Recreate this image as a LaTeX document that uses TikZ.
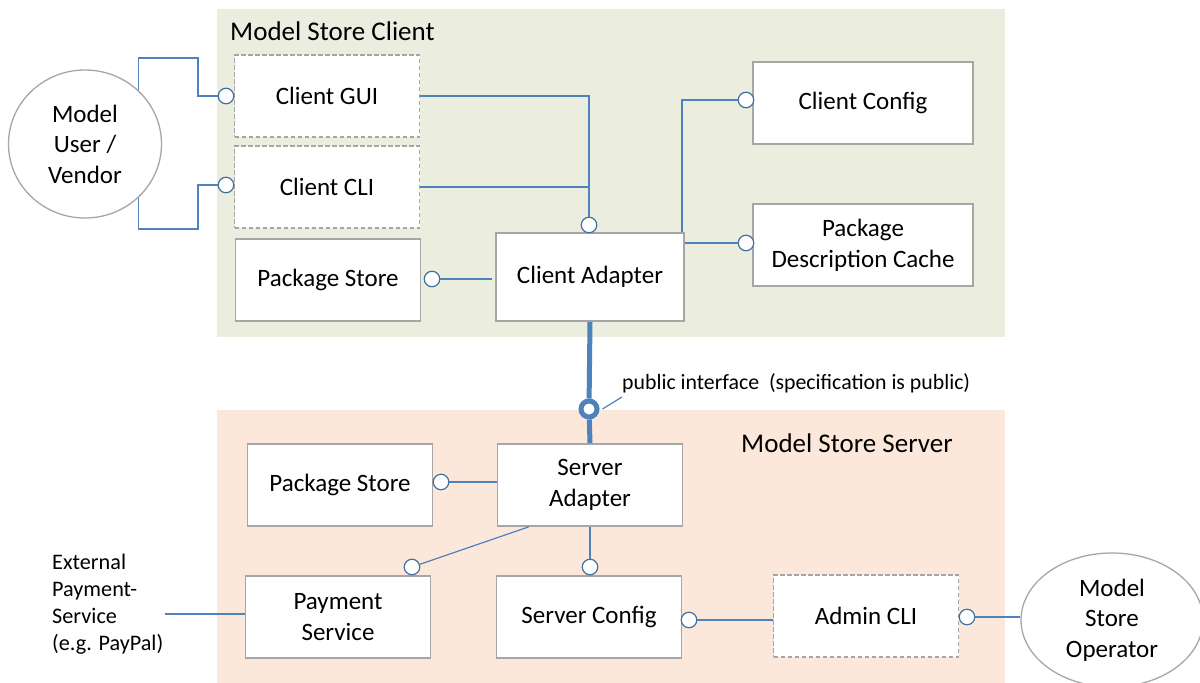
\documentclass[tikz,border=0pt]{standalone}
\usepackage{fontspec}
\setmainfont{Carlito}
\usetikzlibrary{positioning,shapes.geometric}

\definecolor{wireblue}{HTML}{4F81BD}
\definecolor{sockblue}{HTML}{41719C}
\definecolor{boxgray}{HTML}{A6A6A6}
\definecolor{clientbg}{HTML}{EBEEDF}
\definecolor{serverbg}{HTML}{FCE8DA}

\tikzset{
  comp/.style={draw=boxgray, line width=1.8pt, fill=white, minimum width=185pt,
    minimum height=82pt, align=center, font=\fontsize{25}{31}\selectfont},
  compopt/.style={comp, dash pattern=on 4.5pt off 2.5pt},
  actor/.style={ellipse, draw=boxgray, line width=1.3pt, fill=white, align=center,
    inner sep=0pt, font=\fontsize{25}{30.5}\selectfont},
  sock/.style={circle, draw=sockblue, line width=1.2pt, fill=white, minimum size=15.5pt, inner sep=0pt},
  wire/.style={draw=wireblue, line width=1.2pt},
  bus/.style={draw=wireblue, line width=5pt},
  paneltitle/.style={anchor=west, inner sep=0pt, font=\fontsize{27}{32}\selectfont},
}

\begin{document}
\begin{tikzpicture}[x=1pt, y=-1pt]
  \useasboundingbox (0,0) rectangle (1200,683);
  % Panels
  \fill[clientbg] (217,9) rectangle (1005,337);
  \fill[serverbg] (217,410) rectangle (1005,683);
  \node[paneltitle] (ctitle) at (230,31) {Model Store Client};
  \node[paneltitle] (stitle) at (741,443) {Model Store Server};
  % Nodes for the client
  \node[actor, minimum width=153pt, minimum height=148pt] (user) at (85,144) {Model\\User /\\Vendor};
  \node[compopt] (gui) at (327,96) {Client GUI};
  \node[compopt] (cli) at (327,187) {Client CLI};
  \node[comp] (cstore) at (328,280) {Package Store};
  \node[comp, minimum width=188pt, minimum height=88pt] (cadapter) at (590,277) {Client Adapter};
  \node[comp, minimum width=220pt] (cconfig) at (863,103) {Client Config};
  \node[comp, minimum width=220pt] (cache) at (863,245) {Package\\Description Cache};
  % Sockets for the client
  \node[sock] (sgui) at (226,96) {};
  \node[sock] (scli) at (226,185) {};
  \node[sock] (sadapt) at (589,225) {};
  \node[sock] (scstore) at (432,279) {};
  \node[sock] (sconfig) at (746,100) {};
  \node[sock] (scache) at (746,243) {};
  % Wires for the client
  \draw[wire] (user.45) |- (198,58) |- (sgui);
  \draw[wire] (user.-45) |- (198,229) |- (scli);
  \draw[wire] (gui.east) -| (sadapt);
  \draw[wire] (cli.east) -- (cli.east -| sadapt);
  \draw[wire] (scstore) -- ([xshift=-3pt]scstore -| cadapter.west);
  \draw[wire] ([xshift=-3pt]cadapter.north east) |- (sconfig);
  \draw[wire] (cadapter.east |- scache) -- (scache);
  % Public interface between client and server
  \node[circle, draw=wireblue, line width=5pt, fill=white, minimum size=16pt, inner sep=0pt] (pub) at (589,409) {};
  \node[anchor=west, inner sep=0pt, font=\fontsize{21.8}{26}\selectfont] (pubtxt) at (622,383) {public interface~~(specification is public)};
  \coordinate (pubtip) at (622,397);
  \draw[wire] ([xshift=3pt]pub.east) -- (pubtip);
  % Nodes for the server
  \node[comp] (sstore) at (340,485) {Package Store};
  \node[comp] (sadapter) at (590,485) {Server\\Adapter};
  \node[comp] (payment) at (338,617) {Payment\\Service};
  \node[comp] (sconf) at (589,617) {Server Config};
  \node[compopt] (admin) at (866,616) {Admin CLI};
  \node[actor, minimum width=182pt, minimum height=134pt] (oper) at (1112,620) {Model\\Store\\Operator};
  \node[anchor=west, align=left, inner sep=0pt, font=\fontsize{22.2}{27}\selectfont] (ext) at (52,604) {External\\Payment-\\Service\\(e.g. PayPal)};
  \coordinate (extend) at (165,614);
  \draw[bus] (cadapter.south) -- (pub);
  \draw[bus] (pub) -- (sadapter.north);
  % Sockets for the server
  \node[sock] (ssstore) at (441,482) {};
  \node[sock] (spay) at (412,567) {};
  \node[sock] (ssconf) at (590,567) {};
  \node[sock] (sadmin) at (689,620) {};
  \node[sock] (soper) at (967,617) {};
  % Wires for the server
  \draw[wire] (ssstore) -- (ssstore -| sadapter.west);
  \draw[wire] ([xshift=32pt]sadapter.south west) -- (spay);
  \draw[wire] (sadapter.south) -- (ssconf);
  \draw[wire] (sadmin) -- (sadmin -| admin.west);
  \draw[wire] (soper) -- (soper -| oper.west);
  \draw[wire] (extend) -- (extend -| payment.west);
\end{tikzpicture}
\end{document}
